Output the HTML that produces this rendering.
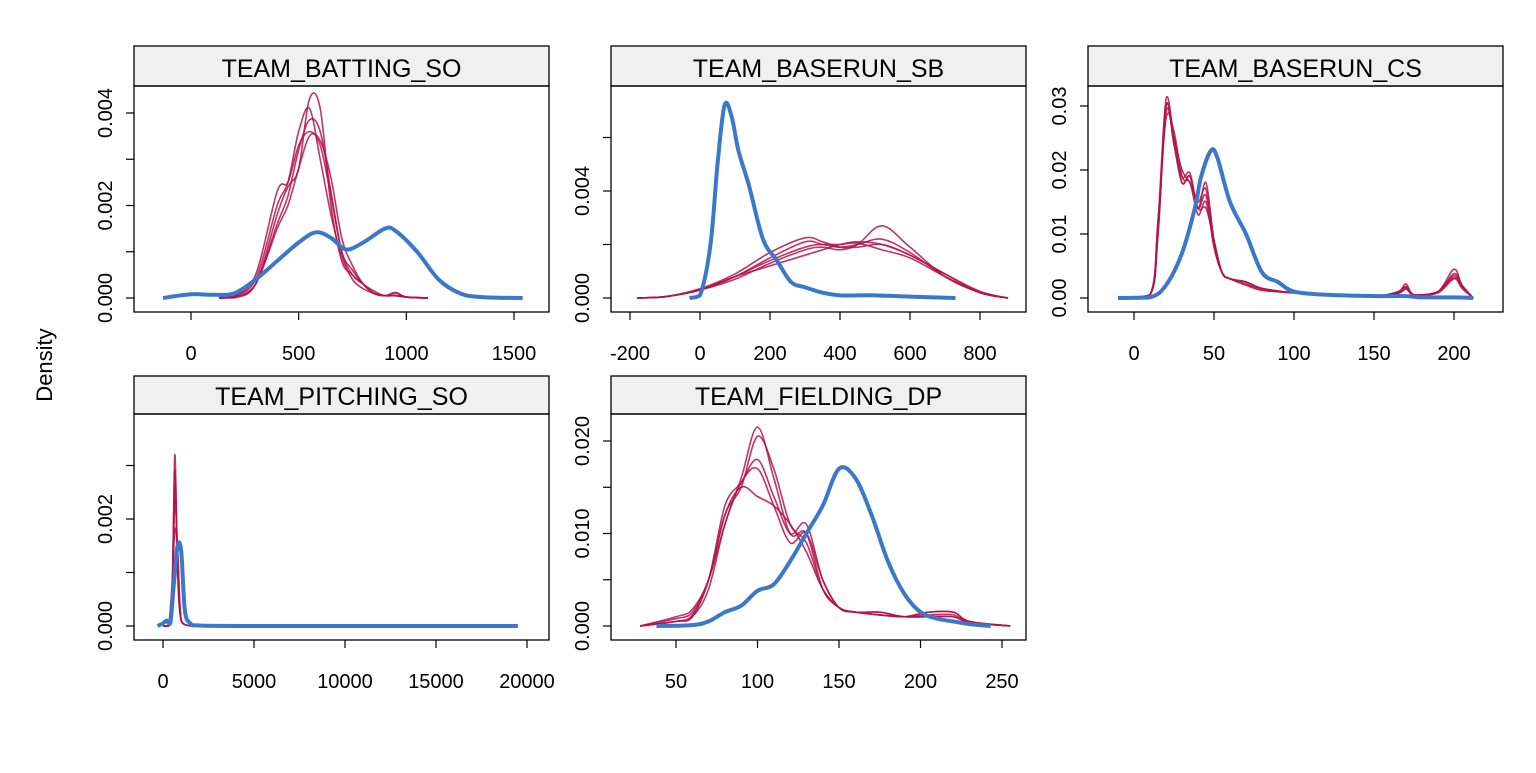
<!DOCTYPE html>
<html><head><meta charset="utf-8"><style>
body{margin:0;background:#fff}
svg text{font-family:"Liberation Sans",Arial,sans-serif;fill:#000}
</style></head><body>
<svg id="c" width="1536" height="768" xmlns="http://www.w3.org/2000/svg">
<text x="52" y="365" font-size="22" text-anchor="middle" transform="rotate(-90 52 365)">Density</text>
</svg>
<script>
// ---- data (density in units of 0.001) ----
const titles = ["TEAM_BATTING_SO","TEAM_BASERUN_SB","TEAM_BASERUN_CS","TEAM_PITCHING_SO","TEAM_FIELDING_DP"];
const p1BlueX=[-130,0,100,200,300,400,500,580,650,720,800,900,950,1050,1150,1250,1350,1540];
const p1BlueY=[0,0.08,0.07,0.1,0.4,0.8,1.2,1.42,1.3,1.05,1.2,1.5,1.45,1.0,0.4,0.1,0.02,0];
const p1RedX=[130,200,300,400,450,500,550,600,650,700,750,800,850,900,950,1000,1100];
const p1Red=[
[0,0,0.3,1.8,2.4,2.8,4.3,4.1,2.0,0.8,0.5,0.3,0.1,0.05,0.12,0.02,0],
[0,0.05,0.4,2.0,2.5,3.6,4.1,3.0,1.8,0.9,0.4,0.2,0.1,0.05,0.05,0.02,0],
[0,0.02,0.3,1.6,2.2,3.2,3.85,3.6,2.3,1.0,0.5,0.3,0.15,0.05,0.1,0.02,0],
[0,0.03,0.5,2.3,2.5,3.3,3.6,3.3,2.2,1.0,0.6,0.3,0.1,0.05,0.05,0.02,0],
[0,0.02,0.3,1.5,2.0,2.8,3.5,3.4,2.6,1.3,0.7,0.3,0.1,0.05,0.05,0.02,0]];
const p2BlueX=[-30,0,30,50,70,90,110,140,180,220,260,300,350,400,500,600,730];
const p2BlueY=[0,0.1,2,5,7.2,6.8,5.5,4.2,2.2,1.4,0.6,0.4,0.2,0.1,0.1,0.05,0];
const p2RedX=[-180,-100,0,100,200,300,350,400,450,520,600,700,800,880];
const p2Red=[
[0,0.05,0.3,0.8,1.5,2.1,2.0,1.9,2.0,2.2,1.7,0.8,0.2,0],
[0,0.05,0.3,0.7,1.3,1.8,1.9,1.8,2.0,2.7,1.9,0.8,0.2,0],
[0,0.05,0.35,0.9,1.7,2.25,2.1,1.9,1.9,2.0,1.6,0.9,0.2,0],
[0,0.05,0.3,0.8,1.2,1.6,1.8,2.0,2.1,2.0,1.6,0.9,0.25,0],
[0,0.05,0.3,0.8,1.4,1.9,2.0,2.0,2.05,1.8,1.5,0.8,0.2,0]];
const p3BlueX=[-10,10,20,30,38,42,48,52,60,70,80,90,100,120,150,170,180,200,212];
const p3BlueY=[0,0.1,2,7,14,19,23,22,15,10,4,2.5,1,0.5,0.3,0.3,0.1,0.1,0];
const p3RedX=[-10,10,15,20,25,30,35,40,45,50,55,60,70,80,100,120,150,165,170,175,190,200,205,212];
const p3Red=[
[0,0.5,12,31,25,19,19.5,14,18,9,4,3,2.5,1.5,0.8,0.5,0.3,1,2.2,0.5,1,4.5,2,0],
[0,0.5,11,30,24,18,19,14,16,8,4,3,2.5,1.5,0.8,0.5,0.3,0.8,1.8,0.5,1,3.8,2,0],
[0,0.5,10,29,25,20,18,15,17,9,4,3,2,1.2,0.8,0.5,0.3,0.8,1.5,0.5,1,3.5,1.8,0],
[0,0.5,12,28,26,19,18,13,15,8,4,3,2.5,1.5,0.8,0.5,0.3,0.9,1.7,0.5,1,3.2,1.8,0],
[0,0.5,10,30,24,18,19,14,14,9,4,3,2.2,1.3,0.8,0.5,0.3,0.7,1.4,0.5,0.8,3,1.5,0]];
const p4BlueX=[-300,0,200,400,600,800,1000,1200,1500,2000,5000,19500];
const p4BlueY=[0,0.05,0.1,0.05,0.8,1.5,1.4,0.3,0.05,0.01,0,0];
const p4RedX=[0,300,500,650,800,1000,1500];
const p4Red=[
[0,0,0.5,3.2,1.0,0.1,0],
[0,0,0.6,2.9,1.2,0.1,0],
[0,0,0.7,2.6,1.3,0.1,0],
[0,0,0.5,2.3,1.5,0.1,0],
[0,0,0.8,1.8,1.4,0.1,0]];
const p5BlueX=[38,60,70,80,90,100,110,120,130,140,150,160,170,180,190,200,210,220,230,243];
const p5BlueY=[0,0.1,0.5,1.5,2.2,3.8,4.5,7,10,13,17,16,12,7,3.5,1.5,0.8,0.5,0.2,0];
const p5RedX=[28,50,60,70,80,90,100,110,120,130,140,150,160,175,190,205,220,230,255];
const p5Red=[
[0,1,1.8,5,11,16,21.5,16,10,10,4,2,1.5,1.5,1,1.5,1.5,0.5,0],
[0,0.8,1.5,5,12,15,20.5,17,11,9,4,2,1.5,1.2,1,1.2,1.2,0.4,0],
[0,0.5,1.2,5,13,15.5,18,14,10,11,5,2,1.5,1.2,1,1.5,1.5,0.5,0],
[0,0.5,1,4,11,15.5,17,13,9,10,5,2,1.5,1.5,1,1,1,0.4,0],
[0,0.5,1,5,12,15,14,13,11,8,4,2,1.5,1.2,1,1,1,0.4,0]];
const xTicks=[[0,500,1000,1500],[-200,0,200,400,600,800],[0,50,100,150,200],[0,5000,10000,15000,20000],[50,100,150,200,250]];
const yTicks=[[0,1,2,3,4],[0,2,4,6],[0,10,20,30],[0,1,2,3],[0,5,10,15,20]];
const yLabels=[["0.000","","0.002","","0.004"],["0.000","","0.004",""],["0.00","0.01","0.02","0.03"],["0.000","","0.002",""],["0.000","","0.010","","0.020"]];
// ---- layout ----
const panels=[
 {l:134,r:549,t:46,s:86,b:312,x0:0,px0:191,x1:1500,px1:514,yk:46.25,y0:298},
 {l:611,r:1026,t:46,s:86,b:312,x0:0,px0:700,x1:800,px1:980,yk:26.75,y0:298},
 {l:1088,r:1503,t:46,s:86,b:312,x0:0,px0:1134,x1:200,px1:1454,yk:6.4,y0:298},
 {l:134,r:549,t:376,s:414,b:640,x0:0,px0:163,x1:20000,px1:527,yk:53.5,y0:626},
 {l:611,r:1026,t:376,s:414,b:640,x0:50,px0:676,x1:250,px1:1002,yk:9.25,y0:626}];
const blues=[[p1BlueX,p1BlueY],[p2BlueX,p2BlueY],[p3BlueX,p3BlueY],[p4BlueX,p4BlueY],[p5BlueX,p5BlueY]];
const reds=[[p1RedX,p1Red],[p2RedX,p2Red],[p3RedX,p3Red],[p4RedX,p4Red],[p5RedX,p5Red]];
const svg=document.getElementById('c');
const NS="http://www.w3.org/2000/svg";
function mk(tag,attrs){const e=document.createElementNS(NS,tag);for(const k in attrs)e.setAttribute(k,attrs[k]);svg.appendChild(e);return e;}
function smooth(pts,base){let d=`M${pts[0][0]},${pts[0][1]}`;for(let i=0;i<pts.length-1;i++){const p0=pts[i-1]||pts[i],p1=pts[i],p2=pts[i+1],p3=pts[i+2]||p2;
 const c1=[p1[0]+(p2[0]-p0[0])/6,Math.min(p1[1]+(p2[1]-p0[1])/6,base)],c2=[p2[0]-(p3[0]-p1[0])/6,Math.min(p2[1]-(p3[1]-p1[1])/6,base)];
 d+=` C${c1[0]},${c1[1]} ${c2[0]},${c2[1]} ${p2[0]},${p2[1]}`;}return d;}
panels.forEach((p,i)=>{
 const sx=v=>p.px0+(v-p.x0)*(p.px1-p.px0)/(p.x1-p.x0);
 const sy=v=>p.y0-v*p.yk;
 let e=mk('rect',{x:p.l,y:p.t,width:p.r-p.l,height:p.s-p.t,fill:'#f0f0f0',stroke:'#000','stroke-width':1.3});
 
 
 e=mk('text',{x:(p.l+p.r)/2,y:p.s-9,'font-size':25,'text-anchor':'middle'});e.textContent=titles[i];
 
 
 e=mk('rect',{x:p.l,y:p.s,width:p.r-p.l,height:p.b-p.s,fill:'none',stroke:'#000','stroke-width':1.3});
 
 
 xTicks[i].forEach(v=>{const x=sx(v);
  e=mk('line',{x1:x,x2:x,y1:p.b,y2:p.b+8,stroke:'#000','stroke-width':1.2});
  
  
  e=mk('text',{x:x,y:p.b+48,'font-size':20,'text-anchor':'middle'});e.textContent=v;
  
  });
 yTicks[i].forEach((v,j)=>{const y=sy(v);
  e=mk('line',{x1:p.l-8,x2:p.l,y1:y,y2:y,stroke:'#000','stroke-width':1.2});
  
  
  if(yLabels[i][j]){const lx=p.l-22;e=mk('text',{x:lx,y:y,'font-size':20,'text-anchor':'middle',transform:`rotate(-90 ${lx} ${y})`});e.textContent=yLabels[i][j];
  
  }});
 const [rx,rys]=reds[i];
 rys.forEach((ry,k)=>{
  e=mk('path',{d:smooth(rx.map((x,m)=>[sx(x),sy(ry[m])]),p.y0),fill:'none',stroke:'#b3124a','stroke-opacity':0.85,'stroke-width':1.6});
  
  });
 const [bx,by]=blues[i];
 e=mk('path',{d:smooth(bx.map((x,m)=>[sx(x),sy(by[m])]),p.y0),fill:'none',stroke:'#3b78c9','stroke-width':4,'stroke-linejoin':'round'});
 
 
});
</script>
</body></html>
